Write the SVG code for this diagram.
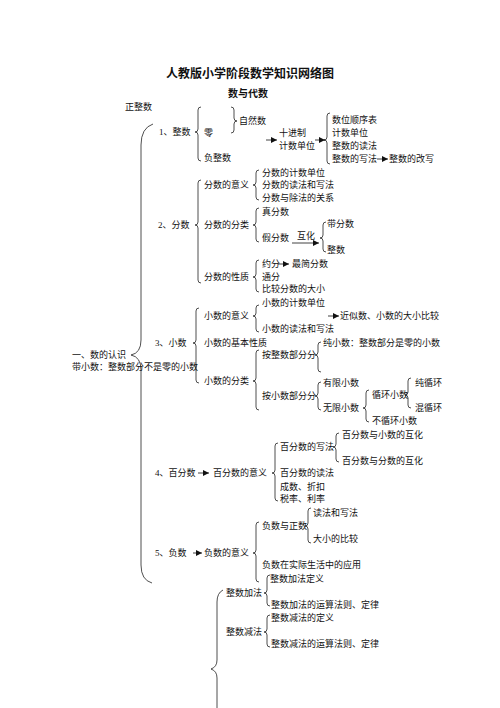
<svg xmlns="http://www.w3.org/2000/svg" width="500" height="708" viewBox="0 0 500 708">
<defs>
<marker id="ah" markerUnits="userSpaceOnUse" markerWidth="7" markerHeight="6" refX="6" refY="3" orient="auto">
<path d="M0,0 L6,3 L0,6 Z" fill="#111"/>
</marker>
<style>
text{font-family:"Liberation Serif","Noto Sans CJK SC",serif;font-size:9px;fill:#111;dominant-baseline:central}
.t{font-size:12px;font-weight:bold}
.h{font-size:10px;font-weight:bold}
.br{fill:none;stroke:#222;stroke-width:0.8}
.ar{fill:none;stroke:#111;stroke-width:0.8;marker-end:url(#ah)}
</style>
</defs>
<rect width="500" height="708" fill="#fff"/>
<g id="title"><text class="t" x="166" y="74">人教版小学阶段数学知识网络图</text></g>
<g id="sub"><text class="h" x="228" y="93">数与代数</text></g>
<g id="connectors">
<path class="br" d="M153,124 Q141,128 141,145 L141,340 Q141,353 131,355 Q141,357 141,370 L141,565 Q141,580 152,583"/>
<path class="br" d="M201,107 Q198,107 198,110 L198,129 Q198,132 195,132 Q198,132 198,135 L198,158 Q198,161 201,161"/>
<path class="br" d="M231,107 Q234,107 234,110 L234,118 Q234,121 237,121 Q234,121 234,124 L234,130 Q234,133 231,133"/>
<path class="br" d="M330,113 Q327,113 327,116 L327,137 Q327,140 324,140 Q327,140 327,143 L327,161 Q327,164 330,164"/>
<path class="br" d="M201,180 Q198,180 198,183 L198,222 Q198,225 195,225 Q198,225 198,228 L198,280 Q198,283 201,283"/>
<path class="br" d="M259,170 Q256,170 256,173 L256,182 Q256,185 253,185 Q256,185 256,188 L256,197 Q256,200 259,200"/>
<path class="br" d="M259,208 Q256,208 256,211 L256,222 Q256,225 253,225 Q256,225 256,228 L256,239 Q256,242 259,242"/>
<path class="br" d="M326,222 Q323,222 323,225 L323,235 Q323,238 320,238 Q323,238 323,241 L323,249 Q323,252 326,252"/>
<path class="br" d="M259,260 Q256,260 256,263 L256,274 Q256,277 253,277 Q256,277 256,280 L256,289 Q256,292 259,292"/>
<path class="br" d="M199,308 Q196,308 196,311 L196,340 Q196,343 193,343 Q196,343 196,346 L196,380 Q196,383 199,383"/>
<path class="br" d="M259,305 Q256,305 256,308 L256,313 Q256,316 253,316 Q256,316 256,319 L256,329 Q256,332 259,332"/>
<path class="br" d="M321,342 Q318,342 318,345 L318,352 Q318,355 315,355 Q318,355 318,358 L318,369 Q318,372 321,372"/>
<path class="br" d="M259,350 Q256,350 256,353 L256,378 Q256,381 253,381 Q256,381 256,384 L256,407 Q256,410 259,410"/>
<path class="br" d="M321,382 Q318,382 318,385 L318,393 Q318,396 315,396 Q318,396 318,399 L318,407 Q318,410 321,410"/>
<path class="br" d="M369,390 Q366,390 366,393 L366,405 Q366,408 363,408 Q366,408 366,411 L366,419 Q366,422 369,422"/>
<path class="br" d="M411,378 Q408,378 408,381 L408,392 Q408,395 405,395 Q408,395 408,398 L408,405 Q408,408 411,408"/>
<path class="br" d="M278,443 Q275,443 275,446 L275,470 Q275,473 272,473 Q275,473 275,476 L275,498 Q275,501 278,501"/>
<path class="br" d="M339,433 Q336,433 336,436 L336,444 Q336,447 333,447 Q336,447 336,450 L336,459 Q336,462 339,462"/>
<path class="br" d="M259,522 Q256,522 256,525 L256,550 Q256,553 253,553 Q256,553 256,556 L256,579 Q256,582 259,582"/>
<path class="br" d="M311,508 Q308,508 308,511 L308,523 Q308,526 305,526 Q308,526 308,529 L308,540 Q308,543 311,543"/>
<path class="br" d="M270,575 Q267,575 267,578 L267,590 Q267,593 264,593 Q267,593 267,596 L267,603 Q267,606 270,606"/>
<path class="br" d="M270,615 Q267,615 267,618 L267,629 Q267,632 264,632 Q267,632 267,635 L267,644 Q267,647 270,647"/>
<path class="br" d="M223,590 Q217,593 217,602 L217,660 Q217,667 211,669 Q217,671 217,678 L217,710"/>
<line class="ar" x1="266" y1="140" x2="277" y2="140"/>
<line class="ar" x1="315" y1="140" x2="325" y2="140"/>
<line class="ar" x1="377" y1="159" x2="388" y2="159"/>
<line class="ar" x1="292" y1="243" x2="319" y2="243"/>
<line class="ar" x1="278" y1="264" x2="289" y2="264"/>
<line class="ar" x1="328" y1="316" x2="339" y2="316"/>
<line class="ar" x1="198" y1="473" x2="209" y2="473"/>
<line class="ar" x1="193" y1="553" x2="202" y2="553"/>
</g>
<g id="n-root"><text x="72" y="355">一、数的认识</text><text x="72" y="367">带小数：整数部分不是零的小数</text></g>
<g id="n-zhengzhengshu"><text x="125" y="107">正整数</text></g>
<g id="n-int">
<text x="159" y="132">1、整数</text>
<text x="204" y="133">零</text>
<text x="204" y="158">负整数</text>
<text x="239" y="121">自然数</text>
<text x="279" y="133">十进制</text>
<text x="279" y="146">计数单位</text>
<text x="332" y="120">数位顺序表</text>
<text x="332" y="133">计数单位</text>
<text x="332" y="146">整数的读法</text>
<text x="332" y="159">整数的写法</text>
<text x="389" y="159">整数的改写</text>
</g>
<g id="n-frac">
<text x="158" y="225">2、分数</text>
<text x="204" y="185">分数的意义</text>
<text x="262" y="173">分数的计数单位</text>
<text x="262" y="185">分数的读法和写法</text>
<text x="262" y="198">分数与除法的关系</text>
<text x="204" y="225">分数的分类</text>
<text x="262" y="212">真分数</text>
<text x="262" y="238">假分数</text>
<text x="297" y="236">互化</text>
<text x="327" y="224">带分数</text>
<text x="327" y="250">整数</text>
<text x="204" y="277">分数的性质</text>
<text x="262" y="264">约分</text>
<text x="292" y="264">最简分数</text>
<text x="262" y="277">通分</text>
<text x="262" y="289">比较分数的大小</text>
</g>
<g id="n-dec">
<text x="155" y="343">3、小数</text>
<text x="204" y="316">小数的意义</text>
<text x="262" y="303">小数的计数单位</text>
<text x="262" y="329">小数的读法和写法</text>
<text x="340" y="316">近似数、小数的大小比较</text>
<text x="204" y="343">小数的基本性质</text>
<text x="262" y="355">按整数部分分</text>
<text x="323" y="343">纯小数：整数部分是零的小数</text>
<text x="204" y="381">小数的分类</text>
<text x="262" y="396">按小数部分分</text>
<text x="323" y="383">有限小数</text>
<text x="323" y="408">无限小数</text>
<text x="372" y="395">循环小数</text>
<text x="415" y="383">纯循环</text>
<text x="415" y="408">混循环</text>
<text x="372" y="421">不循环小数</text>
</g>
<g id="n-pct">
<text x="155" y="473">4、百分数</text>
<text x="213" y="473">百分数的意义</text>
<text x="280" y="447">百分数的写法</text>
<text x="342" y="435">百分数与小数的互化</text>
<text x="342" y="461">百分数与分数的互化</text>
<text x="280" y="473">百分数的读法</text>
<text x="280" y="487">成数、折扣</text>
<text x="280" y="499">税率、利率</text>
</g>
<g id="n-neg">
<text x="155" y="553">5、负数</text>
<text x="204" y="553">负数的意义</text>
<text x="262" y="526">负数与正数</text>
<text x="313" y="513">读法和写法</text>
<text x="313" y="539">大小的比较</text>
<text x="262" y="565">负数在实际生活中的应用</text>
</g>
<g id="n-ops">
<text x="270" y="579">整数加法定义</text>
<text x="226" y="593">整数加法</text>
<text x="271" y="605">整数加法的运算法则、定律</text>
<text x="271" y="618">整数减法的定义</text>
<text x="226" y="632">整数减法</text>
<text x="271" y="644">整数减法的运算法则、定律</text>
</g>
</svg>
